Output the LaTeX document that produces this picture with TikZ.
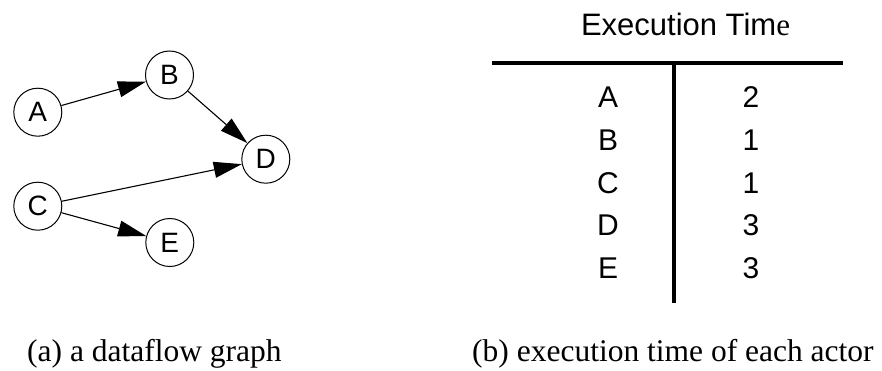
\documentclass[tikz,border=0pt]{standalone}
\usepackage{fontspec}
\setmainfont{Liberation Serif}
\newfontfamily\lsans{Liberation Sans}
\newfontfamily\lserif{Liberation Serif}
\usetikzlibrary{arrows.meta}
\tikzset{
  actor/.style={circle, draw=black, line width=1pt, minimum size=48pt, inner sep=0pt,
    font=\lsans\fontsize{28}{30}\selectfont},
  edge/.style={line width=1.1pt, -{Triangle[length=28pt,width=16pt]}},
  cell/.style={anchor=base, inner sep=0pt, font=\lsans\fontsize{30}{32}\selectfont},
  caption/.style={anchor=base west, inner sep=0pt, font=\lserif\fontsize{31.5}{34}\selectfont},
  rule/.style={line width=4.3pt}
}
\begin{document}
\begin{tikzpicture}[x=1pt,y=-1pt]
\useasboundingbox (0,0) rectangle (882,371);
% graph
\node[actor] (A) at (37.8,112.2) {A};
\node[actor] (B) at (169.5,75) {B};
\node[actor] (D) at (265.8,159.2) {D};
\node[actor] (C) at (37.8,206.2) {C};
\node[actor] (E) at (169.8,242.5) {E};
\draw[edge] (A) -- (B);
\draw[edge] (B) -- (D);
\draw[edge] (C) -- (D);
\draw[edge] (C) -- (E);
% table
\node[anchor=base, inner sep=0pt, font=\lsans\fontsize{31}{33}\selectfont] (title) at (685.5,36) {Execution Tim{\lserif e}};
\coordinate (hl) at (492,62.8);
\coordinate (hr) at (843,62.8);
\coordinate (vt) at (673.8,62.8);
\coordinate (vb) at (673.8,303);
\draw[rule] (hl) -- (hr);
\draw[rule] (vt) -- (vb);
\node[cell] (rA) at (608,107.3) {A};
\node[cell] (rB) at (608,151) {B};
\node[cell] (rC) at (608,194) {C};
\node[cell] (rD) at (608,235) {D};
\node[cell] (rE) at (608,278) {E};
\node[cell] (tA) at (751,107.3) {2};
\node[cell] (tB) at (751,151) {1};
\node[cell] (tC) at (751,194) {1};
\node[cell] (tD) at (751,235) {3};
\node[cell] (tE) at (751,278) {3};
% captions
\node[caption] (capa) at (27,361) {(a) a dataflow graph};
\node[caption] (capb) at (472,361) {(b) execution time of each actor};
\end{tikzpicture}
\end{document}
